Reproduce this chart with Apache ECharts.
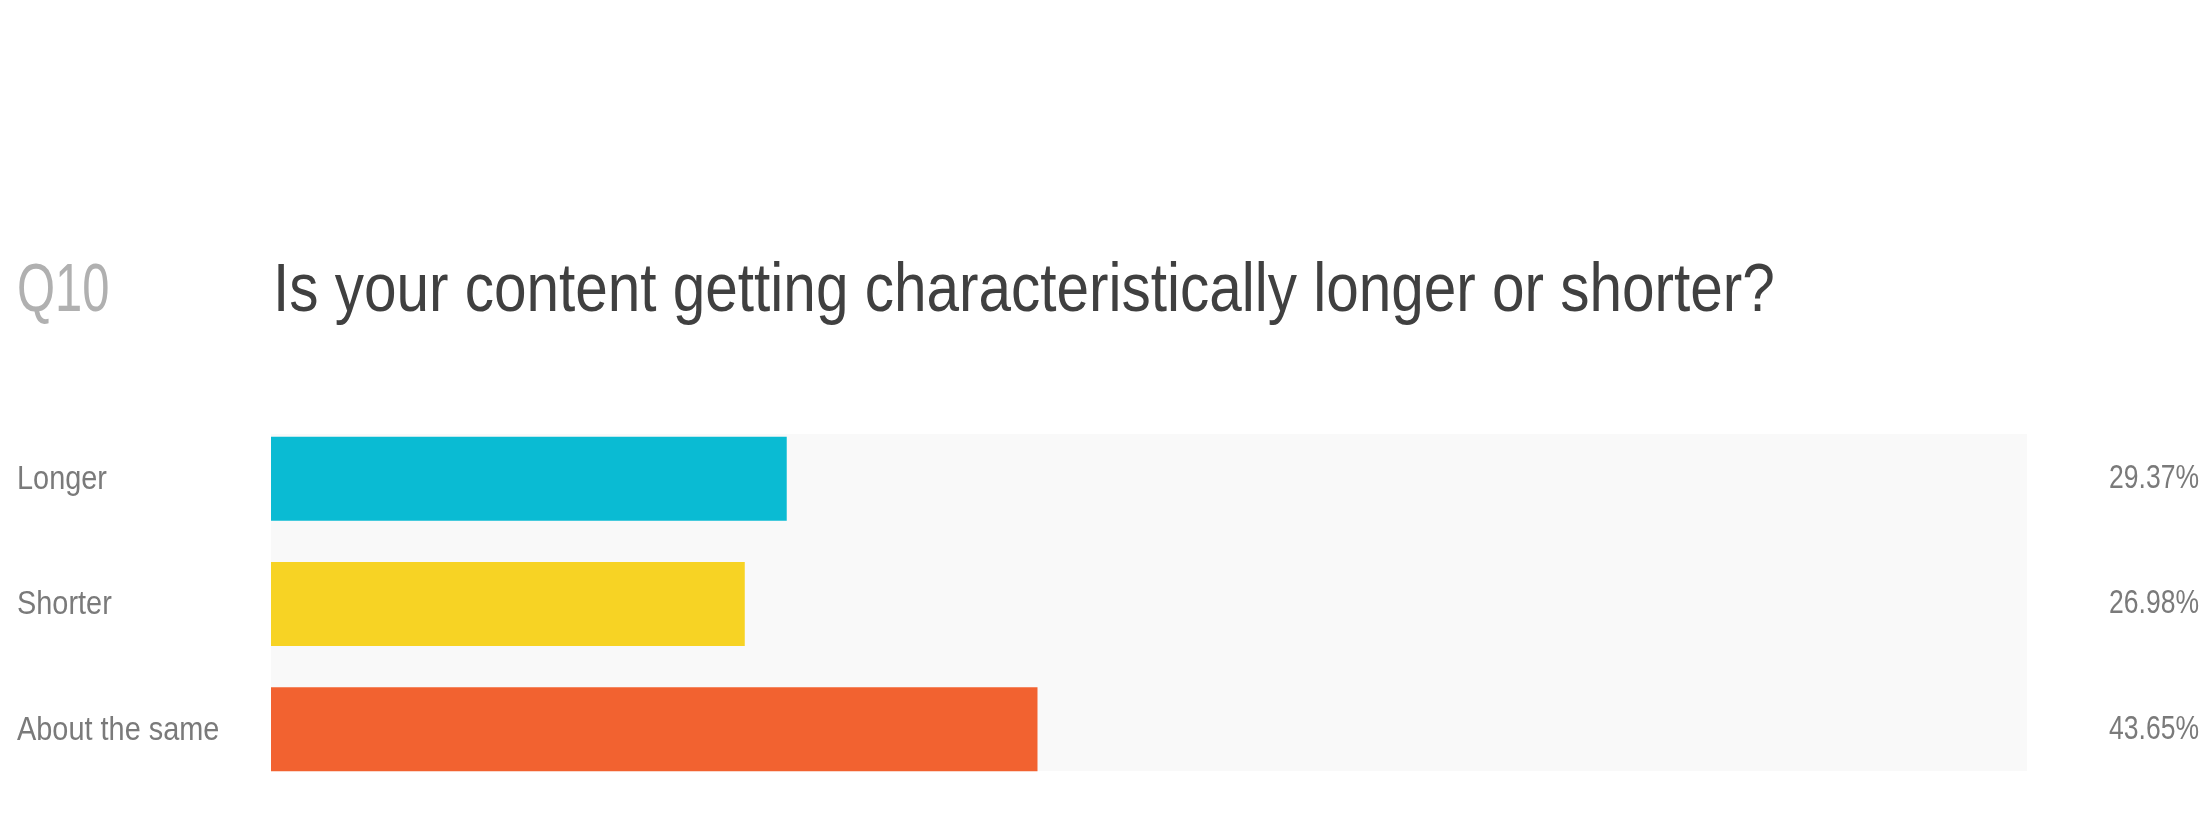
<!DOCTYPE html>
<html>
<head>
<meta charset="utf-8">
<script src="https://cdn.jsdelivr.net/npm/echarts@6/dist/echarts.min.js"></script>
<style>
  html, body { margin: 0; padding: 0; background: #ffffff; }
  #chart { width: 2204px; height: 822px; }
</style>
</head>
<body>
<div id="chart"></div>
<script>
// Survey question and answers
const questionNumber = 'Q10';
const questionText = 'Is your content getting characteristically longer or shorter?';
const categories = ['Longer', 'Shorter', 'About the same'];
const shares = [29.37, 26.98, 43.65];
const barColors = ['#0abbd3', '#f7d324', '#f26230'];

// Liberation Sans squeezed horizontally gives a condensed grotesque look
const FONT_FAMILY = "'Liberation Sans', Arial, sans-serif";
const LABEL_COLOR = '#7a7a7a';

const plotLeft = 271;
const plotWidth = 1756;
const labelLeft = 17;
const valueRight = 2199;

const chart = echarts.init(document.getElementById('chart'), null, { renderer: 'canvas' });

chart.setOption({
  backgroundColor: '#ffffff',
  animation: false,
  graphic: [
    // light backdrop behind the bars
    {
      type: 'rect',
      z: 0,
      silent: true,
      shape: { x: plotLeft, y: 434, width: plotWidth, height: 337 },
      style: { fill: '#f9f9f9' }
    },
    // question number
    {
      type: 'text',
      x: 17,
      y: 292,
      scaleX: 0.72,
      silent: true,
      style: {
        text: questionNumber,
        font: '68px ' + FONT_FAMILY,
        fill: '#b0b0b0',
        align: 'left',
        verticalAlign: 'middle'
      }
    },
    // question text
    {
      type: 'text',
      x: 273,
      y: 292,
      scaleX: 0.86,
      silent: true,
      style: {
        text: questionText,
        font: '68px ' + FONT_FAMILY,
        fill: '#404040',
        align: 'left',
        verticalAlign: 'middle'
      }
    }
  ],
  grid: { left: plotLeft, width: plotWidth, top: 416, height: 376 },
  xAxis: {
    type: 'value',
    min: 0,
    max: 100,
    show: false
  },
  yAxis: {
    type: 'category',
    data: categories,
    inverse: true,
    axisLine: { show: false },
    axisTick: { show: false },
    axisLabel: { show: false }
  },
  series: [
    {
      type: 'bar',
      barWidth: 84,
      z: 2,
      data: shares.map((v, i) => ({ value: v, itemStyle: { color: barColors[i] } }))
    },
    {
      // category name on the left and share on the right of each row
      type: 'custom',
      z: 3,
      silent: true,
      encode: { x: 0, y: 1 },
      data: shares.map((v, i) => [v, categories[i]]),
      renderItem: function (params, api) {
        const idx = api.value(1);
        const y = api.coord([0, idx])[1];
        const share = shares[idx];
        return {
          type: 'group',
          children: [
            {
              type: 'text',
              x: labelLeft,
              y: y + 1,
              scaleX: 0.85,
              style: {
                text: categories[idx],
                font: '34px ' + FONT_FAMILY,
                fill: LABEL_COLOR,
                align: 'left',
                verticalAlign: 'middle'
              }
            },
            {
              type: 'text',
              x: valueRight,
              y: y,
              scaleX: 0.78,
              style: {
                text: share.toFixed(2) + '%',
                font: '34px ' + FONT_FAMILY,
                fill: LABEL_COLOR,
                align: 'right',
                verticalAlign: 'middle'
              }
            }
          ]
        };
      }
    }
  ]
});
</script>
</body>
</html>
